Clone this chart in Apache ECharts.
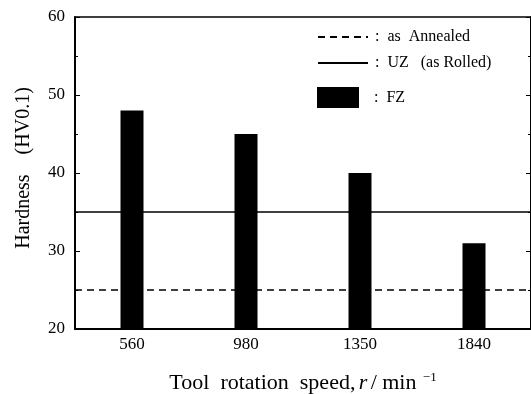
<!DOCTYPE html>
<html>
<head>
<meta charset="utf-8">
<script src="https://cdn.jsdelivr.net/npm/echarts@6/dist/echarts.min.js"></script>
<style>
  html, body { margin: 0; padding: 0; background: #fff; }
  #chart { width: 531px; height: 394px; }
</style>
</head>
<body>
<div id="chart"></div>
<script>
const speeds = ['560', '980', '1350', '1840']
const fzHardness = [48, 45, 40, 31]
const uzHardness = 35
const annealedHardness = 25
const yTicks = { min: 20, max: 60, step: 10 }

const font = '"Liberation Serif", "DejaVu Serif", serif'
const ink = '#000'

const chart = echarts.init(document.getElementById('chart'))

const legendText = (pad) => ({
  fontFamily: font, fontSize: 16, color: ink, padding: [0, 0, 0, pad]
})
// hide the dot ECharts puts in the middle of a line legend icon
const noDot = { color: 'rgba(0,0,0,0)', borderColor: 'rgba(0,0,0,0)', borderWidth: 0 }

chart.setOption({
  animation: false,
  grid: { left: 75, right: 0, top: 17, bottom: 65, outerBoundsMode: 'none' },
  legend: [
    {
      data: ['as Annealed'], left: 317, top: 29, padding: 0, itemWidth: 50, itemHeight: 16,
      itemStyle: noDot,
      formatter: () => ':  as  Annealed', textStyle: legendText(2)
    },
    {
      data: ['UZ'], left: 317, top: 55, padding: 0, itemWidth: 50, itemHeight: 16,
      itemStyle: noDot,
      formatter: () => ':  UZ   (as Rolled)', textStyle: legendText(2)
    },
    {
      data: ['FZ'], left: 317, top: 87, padding: 0, itemWidth: 42, itemHeight: 21, icon: 'rect',
      formatter: () => ':  FZ', textStyle: legendText(10)
    }
  ],
  xAxis: [
    {
      type: 'category',
      data: speeds,
      axisLine: { lineStyle: { color: ink, width: 2 } },
      axisTick: { show: false },
      axisLabel: { color: ink, fontFamily: font, fontSize: 17, margin: 7 },
      name: '{t|Tool  rotation  speed,} {i|r} {t|/ min} {s|−1}',
      nameLocation: 'middle',
      nameGap: 42,
      nameTextStyle: {
        rich: {
          t: { fontFamily: font, fontSize: 22, color: ink },
          i: { fontFamily: font, fontSize: 22, color: ink, fontStyle: 'italic' },
          s: { fontFamily: font, fontSize: 13, color: ink, verticalAlign: 'top', padding: [0, 0, 12, 3] }
        }
      }
    },
    {
      type: 'category',
      data: speeds,
      position: 'top',
      axisLine: { lineStyle: { color: ink, width: 1.5 } },
      axisTick: { inside: true, alignWithLabel: true, length: 4, lineStyle: { color: ink } },
      axisLabel: { show: false }
    }
  ],
  yAxis: [
    {
      type: 'value',
      min: yTicks.min, max: yTicks.max, interval: yTicks.step,
      axisLine: { show: true, lineStyle: { color: ink, width: 2 } },
      axisTick: { show: true, inside: true, length: 5, lineStyle: { color: ink } },
      minorTick: { show: true, splitNumber: 2, length: 3, lineStyle: { color: ink } },
      splitLine: { show: false },
      axisLabel: { color: ink, fontFamily: font, fontSize: 17, margin: 10 },
      name: 'Hardness    (HV0.1)',
      nameLocation: 'middle',
      nameGap: 41,
      nameTextStyle: { fontFamily: font, fontSize: 20, color: ink, padding: [0, 0, 0, 10] }
    },
    {
      type: 'value',
      position: 'right',
      min: yTicks.min, max: yTicks.max, interval: yTicks.step,
      axisLine: { show: true, lineStyle: { color: ink, width: 2 } },
      axisTick: { show: true, inside: true, length: 5, lineStyle: { color: ink } },
      minorTick: { show: true, splitNumber: 2, length: 3, lineStyle: { color: ink } },
      splitLine: { show: false },
      axisLabel: { show: false }
    }
  ],
  series: [
    {
      name: 'FZ',
      type: 'bar',
      data: fzHardness,
      barWidth: 23,
      itemStyle: { color: ink },
      z: 3
    },
    {
      name: 'as Annealed',
      type: 'line',
      data: [],
      symbol: 'none',
      itemStyle: { color: ink },
      lineStyle: { color: ink, width: 1.5, type: [7, 5] },
      markLine: {
        silent: true,
        symbol: 'none',
        label: { show: false },
        lineStyle: { color: ink, width: 1.5, type: [7, 5] },
        data: [{ yAxis: annealedHardness }]
      },
      z: 2
    },
    {
      name: 'UZ',
      type: 'line',
      data: [],
      symbol: 'none',
      itemStyle: { color: ink },
      lineStyle: { color: ink, width: 1.5, type: 'solid' },
      markLine: {
        silent: true,
        symbol: 'none',
        label: { show: false },
        lineStyle: { color: ink, width: 1.5, type: 'solid' },
        data: [{ yAxis: uzHardness }]
      },
      z: 2
    }
  ]
})
</script>
</body>
</html>
